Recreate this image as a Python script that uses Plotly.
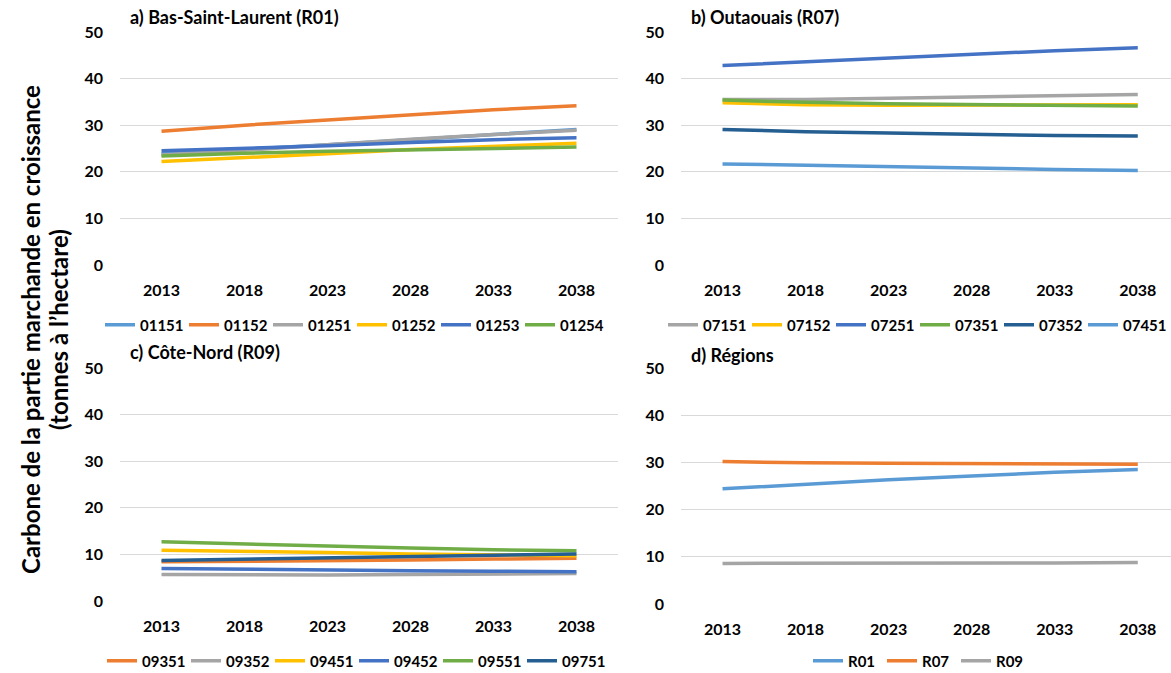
import plotly.graph_objects as go

# Years of the projection
years = [2013, 2018, 2023, 2028, 2033, 2038]

# a) Bas-Saint-Laurent (R01)
r01_names = ["01151", "01152", "01251", "01252", "01253", "01254"]
r01_01151 = [23.9, 24.8, 25.8, 26.9, 28.0, 29.1]
r01_01152 = [28.7, 30.0, 31.1, 32.2, 33.3, 34.2]
r01_01251 = [23.6, 24.6, 25.8, 27.0, 28.0, 28.9]
r01_01252 = [22.2, 23.0, 23.9, 24.8, 25.5, 26.1]
r01_01253 = [24.5, 25.0, 25.6, 26.3, 26.9, 27.3]
r01_01254 = [23.4, 24.0, 24.4, 24.7, 25.0, 25.3]

# b) Outaouais (R07)
r07_names = ["07151", "07152", "07251", "07351", "07352", "07451"]
r07_07151 = [35.5, 35.5, 35.8, 36.1, 36.4, 36.6]
r07_07152 = [34.8, 34.4, 34.3, 34.3, 34.3, 34.4]
r07_07251 = [42.8, 43.6, 44.5, 45.3, 46.0, 46.6]
r07_07351 = [35.4, 34.9, 34.6, 34.4, 34.2, 34.1]
r07_07352 = [29.1, 28.6, 28.3, 28.0, 27.8, 27.7]
r07_07451 = [21.7, 21.4, 21.0, 20.8, 20.5, 20.3]

# c) Côte-Nord (R09)
r09_names = ["09351", "09352", "09451", "09452", "09551", "09751"]
r09_09351 = [8.4, 8.5, 8.7, 8.8, 9.0, 9.2]
r09_09352 = [5.7, 5.6, 5.6, 5.7, 5.8, 5.9]
r09_09451 = [10.9, 10.7, 10.4, 10.1, 9.9, 9.7]
r09_09452 = [7.0, 6.8, 6.6, 6.5, 6.4, 6.3]
r09_09551 = [12.7, 12.2, 11.8, 11.4, 11.0, 10.8]
r09_09751 = [8.7, 9.0, 9.3, 9.6, 9.9, 10.1]

# d) Régions
reg_names = ["R01", "R07", "R09"]
reg_r01 = [24.4, 25.4, 26.3, 27.1, 27.9, 28.5]
reg_r07 = [30.2, 29.9, 29.8, 29.7, 29.6, 29.6]
reg_r09 = [8.6, 8.6, 8.6, 8.6, 8.7, 8.8]

panel_titles = ["a) Bas-Saint-Laurent (R01)", "b) Outaouais (R07)",
                "c) Côte-Nord (R09)", "d) Régions"]
y_title_lines = ["Carbone de la partie marchande en croissance",
                 "(tonnes à l’hectare)"]

LBLUE, ORANGE, GRAY, YELLOW = "#5B9BD5", "#ED7D31", "#A5A5A5", "#FFC000"
BLUE, GREEN, DBLUE = "#4472C4", "#70AD47", "#255E91"

W, H = 1171, 673
FONT = "Lato"


def px(x):
    return x / W


def py(y):
    return 1 - y / H


panels = [
    dict(series=[r01_01151, r01_01152, r01_01251, r01_01252, r01_01253, r01_01254],
         names=r01_names, colors=[LBLUE, ORANGE, GRAY, YELLOW, BLUE, GREEN],
         xdom=(120, 618), ydom=(32, 265), xr=(2010.5, 2040.5),
         legend=(100, 325, 39)),
    dict(series=[r07_07151, r07_07152, r07_07251, r07_07351, r07_07352, r07_07451],
         names=r07_names, colors=[GRAY, YELLOW, BLUE, GREEN, DBLUE, LBLUE],
         xdom=(681, 1171), ydom=(32, 265), xr=(2010.5, 2040.0),
         legend=(663, 325, 39)),
    dict(series=[r09_09351, r09_09352, r09_09451, r09_09452, r09_09551, r09_09751],
         names=r09_names, colors=[ORANGE, GRAY, YELLOW, BLUE, GREEN, DBLUE],
         xdom=(120, 618), ydom=(368, 601), xr=(2010.5, 2040.5),
         legend=(102, 661, 39)),
    dict(series=[reg_r01, reg_r07, reg_r09],
         names=reg_names, colors=[LBLUE, ORANGE, GRAY],
         xdom=(681, 1171), ydom=(368, 604), xr=(2010.5, 2040.0),
         legend=(808, 661, 29)),
]

fig = go.Figure()
layout = dict(width=W, height=H,
              margin=dict(l=0, r=0, t=0, b=0, autoexpand=False),
              paper_bgcolor="white", plot_bgcolor="white",
              font=dict(family=FONT, color="#000000"), annotations=[])

title_pos = [(128, 17), (689, 17), (128, 352), (689, 355)]

for i, p in enumerate(panels):
    k = "" if i == 0 else str(i + 1)
    lg = "legend" if i == 0 else f"legend{i + 1}"
    for vals, name, col in zip(p["series"], p["names"], p["colors"]):
        fig.add_trace(go.Scatter(
            x=years, y=vals, name=name, mode="lines",
            line=dict(color=col, width=3.5),
            xaxis="x" + k, yaxis="y" + k, legend=lg,
        ))
    layout["xaxis" + k] = dict(
        domain=[px(p["xdom"][0]), px(p["xdom"][1])], range=list(p["xr"]),
        anchor="y" + k, tickmode="array", tickvals=years,
        showgrid=False, zeroline=False, showline=False, ticks="",
        ticklabelstandoff=14,
        tickfont=dict(family=FONT, size=16, weight="bold", color="#000000"),
    )
    layout["yaxis" + k] = dict(
        domain=[py(p["ydom"][1]), py(p["ydom"][0])], range=[0, 50],
        anchor="x" + k, tickmode="array", tickvals=[0, 10, 20, 30, 40, 50],
        showgrid=True, gridcolor="#D9D9D9", gridwidth=1.2,
        zeroline=False, showline=False, ticks="",
        ticklabelstandoff=16,
        tickfont=dict(family=FONT, size=16, weight="bold", color="#000000"),
    )
    lx, ly, ew = p["legend"]
    layout[lg] = dict(
        orientation="h", x=px(lx), y=py(ly), xanchor="left", yanchor="middle",
        entrywidth=ew, entrywidthmode="pixels", itemwidth=30,
        bgcolor="rgba(0,0,0,0)", borderwidth=0, tracegroupgap=0,
        font=dict(family=FONT, size=15, weight="bold", color="#000000"),
    )
    tx, ty = title_pos[i]
    layout["annotations"].append(dict(
        text=panel_titles[i], x=px(tx), y=py(ty), xref="paper", yref="paper",
        xanchor="left", yanchor="middle", showarrow=False,
        font=dict(family=FONT, size=18, weight="bold", color="#000000"),
    ))

# Shared y-axis title, one annotation per line
for line, xc in zip(y_title_lines, (30, 58)):
    layout["annotations"].append(dict(
        text=line, x=px(xc), y=py(330), xref="paper", yref="paper",
        xanchor="center", yanchor="middle", showarrow=False, textangle=-90,
        font=dict(family=FONT, size=24, weight="bold", color="#000000"),
    ))

fig.update_layout(**layout)
fig.write_html("out.html")
